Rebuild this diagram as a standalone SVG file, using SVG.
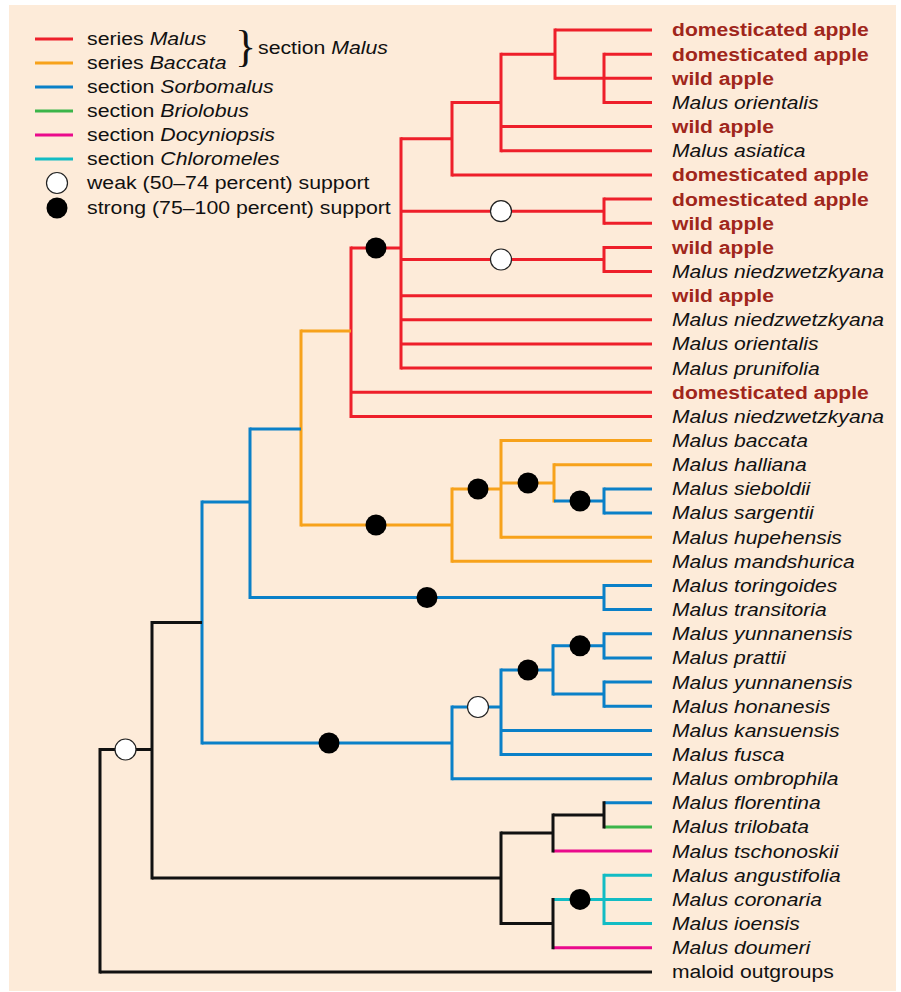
<svg xmlns="http://www.w3.org/2000/svg" width="901" height="992" viewBox="0 0 901 992">
<style>
.bg{fill:#fdebd9}
path{fill:none;stroke-width:3}
.v{stroke-linecap:square}
.h{stroke-linecap:butt}
.r{stroke:#ee1f2a}.o{stroke:#f7a21b}.b{stroke:#0a80c8}.g{stroke:#3bb54a}.m{stroke:#ea0a8c}.c{stroke:#12bcc4}.k{stroke:#111}
.sw{fill:#fff;stroke:#222;stroke-width:1.2}
.ss{fill:#000}
text{font-family:"Liberation Sans",Arial,Helvetica,sans-serif;font-size:19px;fill:#111}
.dom{font-weight:bold;fill:#a0261b}
.it{font-style:italic}
.br{font-family:"Liberation Serif","Times New Roman",serif;font-size:44px}
</style>
<rect x="0" y="0" width="901" height="992" fill="#fff"/>
<rect class="bg" x="9" y="5" width="887" height="986"/>

<g id="connectors">
<path class="h r" d="M604 54.2H652M604 78.3H652M604 102.5H652M555 30H652M555 78.3H604M501 54.2H555M501 126.6H652M501 150.8H652M452 102.5H501M452 174.9H652M604 199.1H652M604 223.2H652M604 247.4H652M604 271.5H652M401 138.7H452M401 211.2H604M401 259.5H604M401 295.7H652M401 319.8H652M401 344H652M401 368.1H652M351 248H401M351 392.3H652M351 416.4H652"/>
<path class="v r" d="M604 54.2V102.5M555 30V78.3M501 54.2V150.8M452 102.5V174.9M604 199.1V223.2M604 247.4V271.5M401 138.7V368.1M351 248V416.4"/>
<path class="h o" d="M301 331H351M301 525H452M554 464.7H652M501 440.6H652M501 537.2H652M501 483H554M452 489H501M452 561.3H652"/>
<path class="v o" d="M301 331V525M554 464.7V501M501 440.6V537.2M452 489V561.3"/>
<path class="h b" d="M554 501H604M604 488.9H652M604 513H652M604 585.5H652M604 609.6H652M250 429H301M250 597.5H604M604 633.8H652M604 657.9H652M604 682.1H652M604 706.2H652M553 645.8H604M553 694.1H604M501 670H553M501 730.4H652M501 754.5H652M452 707H501M452 778.7H652M202 502H250M202 743H452M604 802.8H652"/>
<path class="v b" d="M604 488.9V513M604 585.5V609.6M250 429V597.5M604 633.8V657.9M604 682.1V706.2M553 645.8V694.1M501 670V754.5M452 707V778.7M202 502V743"/>
<path class="h g" d="M604 827H652"/>
<path class="h m" d="M553 851.1H652M553 947.7H652"/>
<path class="h c" d="M553 899.4H652M604 875.3H652M604 923.6H652"/>
<path class="v c" d="M604 875.3V923.6"/>
<path class="h k" d="M553 815H604M501 833H553M501 923.6H553M152 622.5H202M152 878H501M100 749.5H152M100 971.9H652"/>
<path class="v k" d="M604 802.8V827M553 815V851.1M553 899.4V947.7M501 833V923.6M152 622.5V878M100 749.5V971.9"/>
</g>

<g id="support">
<g id="n-malus-core"><circle class="ss" cx="376" cy="248" r="10.5"/></g>
<g id="n-baccata"><circle class="ss" cx="376" cy="525" r="10.5"/></g>
<g id="n-baccata2"><circle class="ss" cx="478" cy="489" r="10.5"/></g>
<g id="n-baccata3"><circle class="ss" cx="528" cy="483" r="10.5"/></g>
<g id="n-sieboldii"><circle class="ss" cx="580" cy="501" r="10.5"/></g>
<g id="n-toringoides"><circle class="ss" cx="427" cy="597.5" r="10.5"/></g>
<g id="n-sorbomalus"><circle class="ss" cx="329" cy="743" r="10.5"/></g>
<g id="n-yunnan2"><circle class="ss" cx="528" cy="670" r="10.5"/></g>
<g id="n-yunnan1"><circle class="ss" cx="580" cy="645.8" r="10.5"/></g>
<g id="n-chloromeles"><circle class="ss" cx="580" cy="899.4" r="10.5"/></g>
<g id="n-dom-wild"><circle class="sw" cx="501" cy="211.2" r="10.5"/></g>
<g id="n-wild-niedz"><circle class="sw" cx="501" cy="259.5" r="10.5"/></g>
<g id="n-sorbo-weak"><circle class="sw" cx="478" cy="707" r="10.5"/></g>
<g id="n-root"><circle class="sw" cx="125.5" cy="749.5" r="10.5"/></g>
</g>

<g id="labels" transform="translate(672 0) scale(1.11 1)">
<g id="l1"><text class="dom" x="0" y="36.5">domesticated apple</text></g>
<g id="l2"><text class="dom" x="0" y="60.7">domesticated apple</text></g>
<g id="l3"><text class="dom" x="0" y="84.8">wild apple</text></g>
<g id="l4"><text class="it" x="0" y="109">Malus orientalis</text></g>
<g id="l5"><text class="dom" x="0" y="133.1">wild apple</text></g>
<g id="l6"><text class="it" x="0" y="157.3">Malus asiatica</text></g>
<g id="l7"><text class="dom" x="0" y="181.4">domesticated apple</text></g>
<g id="l8"><text class="dom" x="0" y="205.6">domesticated apple</text></g>
<g id="l9"><text class="dom" x="0" y="229.7">wild apple</text></g>
<g id="l10"><text class="dom" x="0" y="253.9">wild apple</text></g>
<g id="l11"><text class="it" x="0" y="278">Malus niedzwetzkyana</text></g>
<g id="l12"><text class="dom" x="0" y="302.2">wild apple</text></g>
<g id="l13"><text class="it" x="0" y="326.3">Malus niedzwetzkyana</text></g>
<g id="l14"><text class="it" x="0" y="350.5">Malus orientalis</text></g>
<g id="l15"><text class="it" x="0" y="374.6">Malus prunifolia</text></g>
<g id="l16"><text class="dom" x="0" y="398.8">domesticated apple</text></g>
<g id="l17"><text class="it" x="0" y="422.9">Malus niedzwetzkyana</text></g>
<g id="l18"><text class="it" x="0" y="447.1">Malus baccata</text></g>
<g id="l19"><text class="it" x="0" y="471.2">Malus halliana</text></g>
<g id="l20"><text class="it" x="0" y="495.4">Malus sieboldii</text></g>
<g id="l21"><text class="it" x="0" y="519.5">Malus sargentii</text></g>
<g id="l22"><text class="it" x="0" y="543.7">Malus hupehensis</text></g>
<g id="l23"><text class="it" x="0" y="567.8">Malus mandshurica</text></g>
<g id="l24"><text class="it" x="0" y="592">Malus toringoides</text></g>
<g id="l25"><text class="it" x="0" y="616.1">Malus transitoria</text></g>
<g id="l26"><text class="it" x="0" y="640.3">Malus yunnanensis</text></g>
<g id="l27"><text class="it" x="0" y="664.4">Malus prattii</text></g>
<g id="l28"><text class="it" x="0" y="688.6">Malus yunnanensis</text></g>
<g id="l29"><text class="it" x="0" y="712.7">Malus honanesis</text></g>
<g id="l30"><text class="it" x="0" y="736.9">Malus kansuensis</text></g>
<g id="l31"><text class="it" x="0" y="761">Malus fusca</text></g>
<g id="l32"><text class="it" x="0" y="785.2">Malus ombrophila</text></g>
<g id="l33"><text class="it" x="0" y="809.3">Malus florentina</text></g>
<g id="l34"><text class="it" x="0" y="833.5">Malus trilobata</text></g>
<g id="l35"><text class="it" x="0" y="857.6">Malus tschonoskii</text></g>
<g id="l36"><text class="it" x="0" y="881.8">Malus angustifolia</text></g>
<g id="l37"><text class="it" x="0" y="905.9">Malus coronaria</text></g>
<g id="l38"><text class="it" x="0" y="930.1">Malus ioensis</text></g>
<g id="l39"><text class="it" x="0" y="954.2">Malus doumeri</text></g>
<g id="l40"><text x="0" y="978.4">maloid outgroups</text></g>
</g>

<g id="legend">
<path class="h r" d="M35 39H73"/>
<path class="h o" d="M35 63H73"/>
<path class="h b" d="M35 87H73"/>
<path class="h g" d="M35 111H73"/>
<path class="h m" d="M35 135H73"/>
<path class="h c" d="M35 159H73"/>
<circle class="sw" cx="57" cy="183" r="10.5"/>
<circle class="ss" cx="57" cy="208" r="10.5"/>
<g transform="translate(87 0) scale(1.12 1)">
<text x="0" y="45">series <tspan class="it">Malus</tspan></text>
<text x="0" y="69">series <tspan class="it">Baccata</tspan></text>
<text x="0" y="93">section <tspan class="it">Sorbomalus</tspan></text>
<text x="0" y="117">section <tspan class="it">Briolobus</tspan></text>
<text x="0" y="141">section <tspan class="it">Docyniopsis</tspan></text>
<text x="0" y="165">section <tspan class="it">Chloromeles</tspan></text>
<text x="0" y="189">weak (50–74 percent) support</text>
<text x="0" y="214">strong (75–100 percent) support</text>
</g>
<text class="br" x="235" y="61">}</text>
<g transform="translate(258 0) scale(1.12 1)">
<text x="0" y="54.5">section <tspan class="it">Malus</tspan></text>
</g>
</g>
</svg>
